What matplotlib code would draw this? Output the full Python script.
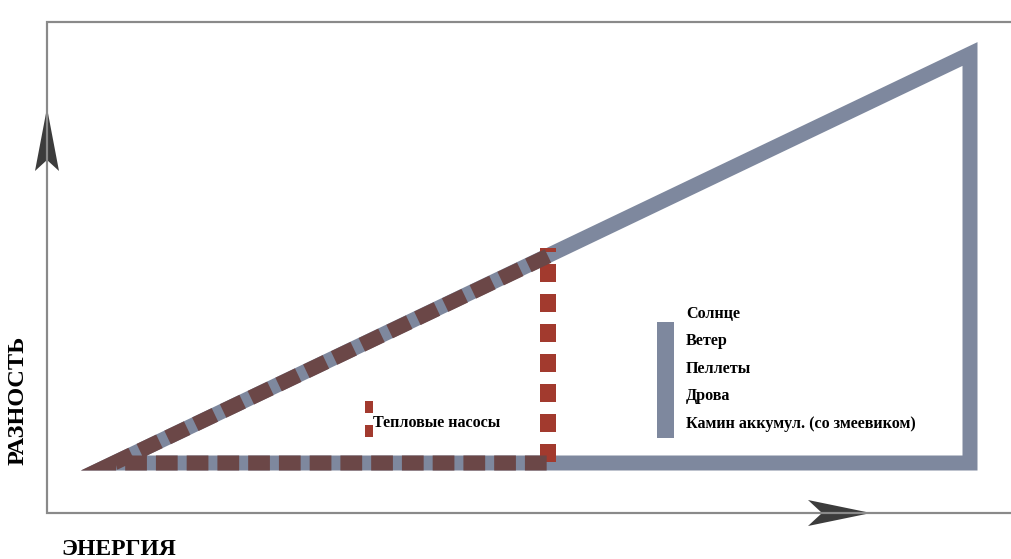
import numpy as np
import matplotlib
matplotlib.use('Agg')
import matplotlib.pyplot as plt
from matplotlib.patches import Polygon

plt.rcParams['font.family'] = ['Liberation Serif', 'DejaVu Serif']

# Diagram geometry (pixel space of the 1011x559 picture)
big_tri_x = [114, 970, 970]
big_tri_y = [463, 463, 54]

pump_x = [548, 114, 548]
pump_y = [256, 463, 463]

pump_vert_x = [548, 548]
pump_vert_y = [462, 248]

frame_x = [1011, 47, 47, 1011]
frame_y = [22, 22, 513, 513]

sources = ['Солнце', 'Ветер', 'Пеллеты', 'Дрова', 'Камин аккумул. (со змеевиком)']
sources_y = [318, 345, 373, 400, 428]

grey = '#7e889e'
brown = '#6b4747'
red = '#a23a2e'

def px(v):
    # pixels -> points at dpi 100
    return v * 72 / 100

fig = plt.figure(figsize=(10.11, 5.59), dpi=100)
ax = fig.add_axes([0, 0, 1, 1])
ax.set_xlim(0, 1011)
ax.set_ylim(559, 0)
ax.axis('off')

# frame with axis lines
ax.plot(frame_x, frame_y, color='#8a8a8a', lw=px(2.2), solid_joinstyle='miter')

# arrow heads
up_head = Polygon([(47, 108), (59, 171), (47, 160), (35, 171)], closed=True,
                  facecolor='#3c3c3c', edgecolor='none')
right_head = Polygon([(871, 513), (808, 526), (822, 513), (808, 500)], closed=True,
                     facecolor='#3c3c3c', edgecolor='none')
ax.add_patch(up_head)
ax.add_patch(right_head)

# big grey triangle
tri = Polygon(list(zip(big_tri_x, big_tri_y)), closed=True, fill=False,
              edgecolor=grey, lw=px(15), joinstyle='miter')
ax.add_patch(tri)

# heat pump region: red vertical, brown dashed over the grey band
v, = ax.plot(pump_vert_x, pump_vert_y, color=red, lw=px(16), dash_capstyle='butt')
v.set_dashes((18 / 16, 12 / 16))

b, = ax.plot(pump_x, pump_y, color=brown, lw=px(15), dash_capstyle='butt',
             dash_joinstyle='miter')
b.set_dashes((1.45, 0.6))

# legend for sources
ax.add_patch(plt.Rectangle((657, 322), 17, 116, facecolor=grey, edgecolor='none'))
for name, y in zip(sources, sources_y):
    ax.text(686, y, name, fontsize=11.6, fontweight='bold', va='baseline', ha='left')

# legend for heat pumps
m, = ax.plot([368.5, 368.5], [401, 438], color=red, lw=px(8))
m.set_dashes((12 / 8, 12 / 8))
ax.text(373, 427, 'Тепловые насосы', fontsize=11.6, fontweight='bold',
        va='baseline', ha='left')

# axis titles
ax.text(61, 555, 'ЭНЕРГИЯ', fontsize=17, fontweight='bold', va='baseline', ha='left')
ax.text(18, 400, 'РАЗНОСТЬ', fontsize=17.5, fontweight='bold', rotation=90,
        va='center', ha='center')

fig.savefig('out.png', dpi=100, facecolor='white')
